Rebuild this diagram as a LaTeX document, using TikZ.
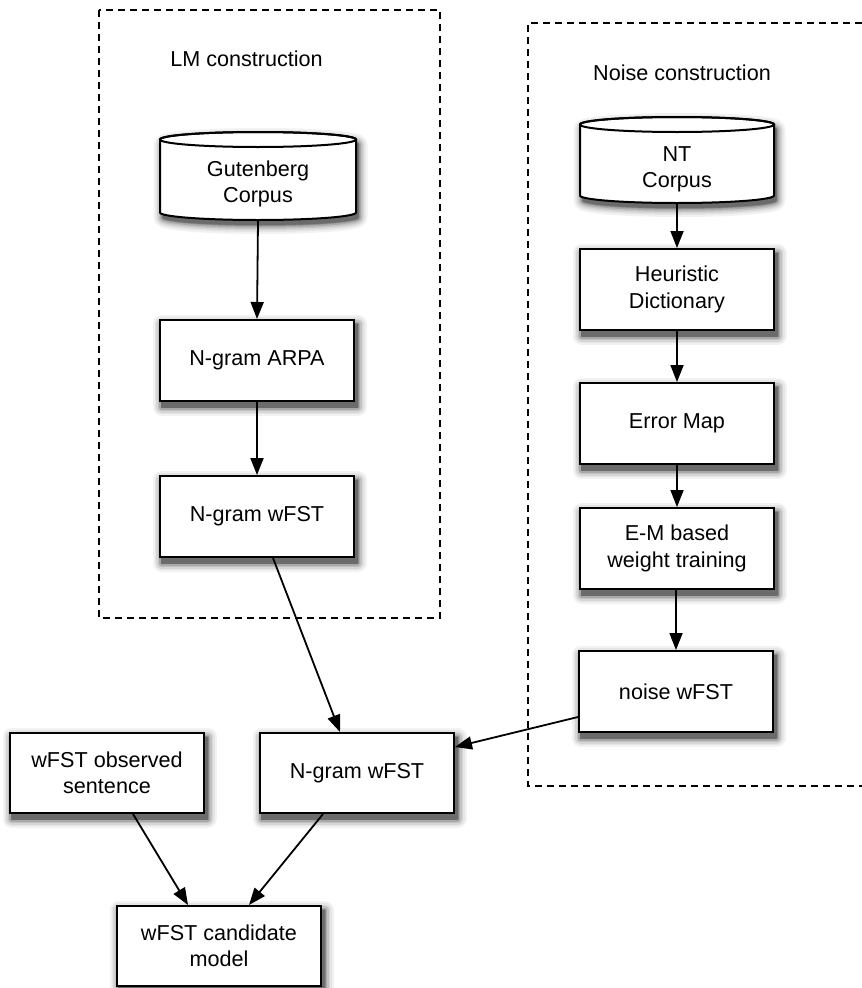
\documentclass[tikz,border=0pt]{standalone}
\usepackage{fontspec}
\setmainfont{Liberation Sans}
\usetikzlibrary{arrows.meta}
\pgfdeclarelayer{shade}
\pgfsetlayers{shade,main}

\tikzset{
  procbox/.style={draw, line width=2pt, fill=white, minimum width=194pt,
      minimum height=81pt, align=center, inner sep=0pt},
  cyltext/.style={align=center, inner sep=0pt},
  cylline/.style={draw, line width=2pt, fill=white},
  groupframe/.style={draw, line width=1.4pt, dash pattern=on 7pt off 5pt},
  flow/.style={line width=1.8pt, -{Triangle[length=17pt,width=13pt]}},
  grouptitle/.style={inner sep=0pt},
  shadelayer/.style={fill=black!#1, draw=black!#1, line join=round}
}

% soft shadow: the shape, offset down-right, painted as grey rings that
% grow wider and lighter outwards (widest first)
\def\shaderings{9/5,7/10,5.5/16,4/24,2.5/34,1/46,0.2/58}

\newcommand{\boxshade}[1]{%
  \begin{pgfonlayer}{shade}
    \foreach \e/\g in \shaderings {
      \path[shadelayer=\g, line width={2*\e*1pt}]
        ([shift={(2.5pt,-5pt)}]#1.south west) rectangle ([shift={(2.5pt,-5pt)}]#1.north east);
    }
  \end{pgfonlayer}}

% cylinder body outline between two rim centres
\newcommand{\cylbody}[4]{% left x, right x, top rim y, bottom rim y
  (#1,#3) -- (#1,#4)
  arc[start angle=180, end angle=360, x radius={(#2-#1)/2*1pt}, y radius=7.5pt]
  -- (#2,#3)
  arc[start angle=0, end angle=180, x radius={(#2-#1)/2*1pt}, y radius=7.5pt] -- cycle}

\newcommand{\cylshade}[4]{%
  \begin{pgfonlayer}{shade}
    \foreach \e/\g in \shaderings {
      \path[shadelayer=\g, line width={2*\e*1pt}, shift={(2.5pt,-5pt)}] \cylbody{#1}{#2}{#3}{#4};
    }
  \end{pgfonlayer}}

\begin{document}
\begin{tikzpicture}[x=1pt, y=-1pt, font=\fontsize{21.6}{26.5}\selectfont]
\useasboundingbox (0,0) rectangle (862,988);

% group frames (the right one runs off the page edge)
\path[groupframe] (99,10) rectangle (440,618);
\path[groupframe] (862,23) -- (528,23) -- (528,786) -- (862,786);
\node[grouptitle] (lmtitle) at (246.5,59) {LM construction};
\node[grouptitle] (noisetitle) at (682,73) {Noise construction};

% corpus cylinders: shadow, outline, top rim, and a text node spanning the body
\cylshade{160}{356}{139.5}{212.5}
\path[cylline] \cylbody{160}{356}{139.5}{212.5};
\draw[line width=2pt] (258,139.5) ellipse[x radius=98pt, y radius=7.5pt];
\node[cyltext, anchor=north] (gut) at (258,132)
  {\rule{0pt}{44pt}Gutenberg\\Corpus\rule[-18pt]{0pt}{18pt}};

\cylshade{580}{774}{124.5}{195.5}
\path[cylline] \cylbody{580}{774}{124.5}{195.5};
\draw[line width=2pt] (677,124.5) ellipse[x radius=97pt, y radius=7.5pt];
\node[cyltext, anchor=north] (nt) at (677,117)
  {\rule{0pt}{44pt}NT\\Corpus\rule[-15.5pt]{0pt}{15.5pt}};

% language model column
\node[procbox] (arpa) at (257,360.5) {N-gram ARPA};
\node[procbox] (lmw) at (257,516.5) {N-gram wFST};

% noise model column
\node[procbox] (heur) at (677,289.5) {Heuristic\\Dictionary};
\node[procbox] (err) at (677,423.5) {Error Map};
\node[procbox] (em) at (677,548.5) {E-M based\\weight training};
\node[procbox] (noise) at (676,691.5) {noise wFST};

% composition
\node[procbox, minimum height=80pt] (obs) at (107,773) {wFST observed\\sentence};
\node[procbox, minimum height=80pt] (ngram) at (357,773) {N-gram wFST};
\node[procbox, minimum width=204pt, minimum height=80pt] (cand) at (219,946) {wFST candidate\\model};

\boxshade{arpa}\boxshade{lmw}
\boxshade{heur}\boxshade{err}\boxshade{em}\boxshade{noise}
\boxshade{obs}\boxshade{ngram}\boxshade{cand}

% connectors
\draw[flow] (gut.south) -- (arpa.north);
\draw[flow] (arpa) -- (lmw);
\draw[flow] ([xshift=16pt]lmw.south) -- ([xshift=-17pt]ngram.north);
\draw[flow] (nt.south) -- (heur.north);
\draw[flow] (heur) -- (err);
\draw[flow] (err) -- (em);
\draw[flow] ([xshift=-1pt]em.south) -- (noise.north);
\draw[flow] ([yshift=-25.5pt]noise.west) -- ([yshift=26pt]ngram.east);
\draw[flow] ([xshift=26pt]obs.south) -- ([xshift=-31pt]cand.north);
\draw[flow] ([xshift=-34pt]ngram.south) -- ([xshift=30pt]cand.north);
\end{tikzpicture}
\end{document}
